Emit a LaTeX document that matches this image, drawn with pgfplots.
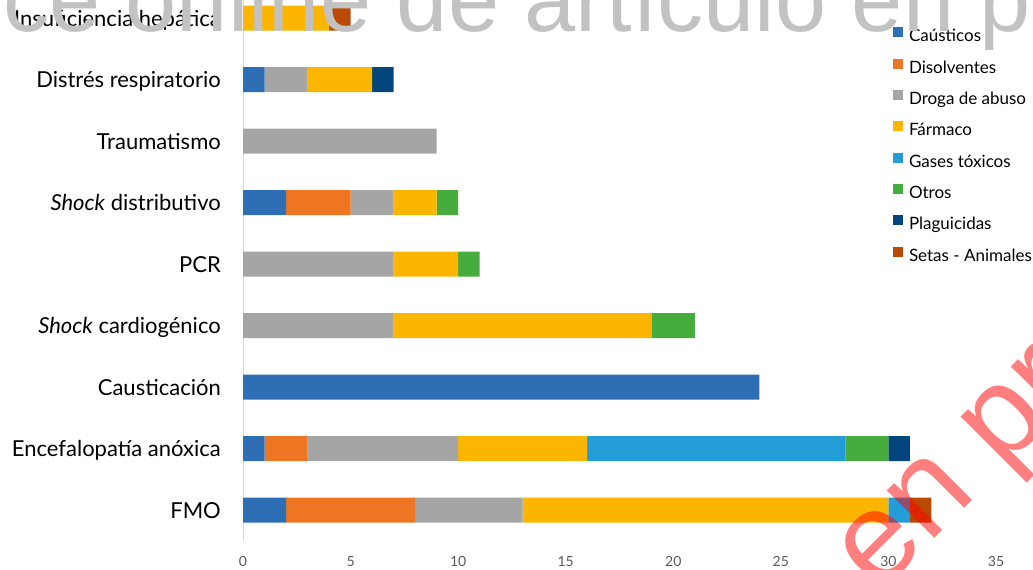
\documentclass[border=0pt]{standalone}
\usepackage{fontspec}
\setmainfont{Lato}
\newfontfamily\wmfont{Liberation Sans}
\usepackage{pgfplots}
\pgfplotsset{compat=1.18}
\definecolor{cCaus}{HTML}{2E6EB5}
\definecolor{cDis}{HTML}{EE7521}
\definecolor{cDro}{HTML}{A5A5A5}
\definecolor{cFar}{HTML}{FDB600}
\definecolor{cGas}{HTML}{239CD8}
\definecolor{cOtr}{HTML}{47AC3E}
\definecolor{cPla}{HTML}{03467E}
\definecolor{cSet}{HTML}{BA4A03}
\definecolor{lgrey}{HTML}{D9D9D9}
\definecolor{tickgrey}{HTML}{595959}
\definecolor{wmgrey}{HTML}{C2C2C2}
\pgfplotsset{myleg/.style={legend image code/.code={\fill[##1] (0pt,0.5pt) rectangle (10pt,10.5pt);}}}
\begin{document}
\begin{tikzpicture}[x=1pt,y=1pt]
\useasboundingbox (0,0) rectangle (1033,570);
\clip (0,0) rectangle (1033,570);
\begin{axis}[
  at={(243pt,29.25pt)}, anchor=south west,
  scale only axis, width=753pt, height=553.5pt,
  xmin=0, xmax=35, ymin=-0.5, ymax=8.5,
  xbar stacked, bar width=25pt,
  axis x line*=bottom, axis y line*=left,
  x axis line style={draw=none},
  y axis line style={draw=lgrey, line width=1pt},
  major tick length=0pt,
  xtick={0,5,...,35}, ytick={0,...,8},
  yticklabels={FMO, Encefalopatía anóxica, Causticación, \textit{Shock} cardiogénico, PCR, \textit{Shock} distributivo, Traumatismo, Distrés respiratorio, Insuficiencia hepática},
  /pgf/number format/assume math mode=true,
  xticklabel style={font=\fontsize{14}{16}\selectfont, text=tickgrey, anchor=base, yshift=-25.5pt, inner sep=0pt},
  yticklabel style={font=\fontsize{22}{26}\selectfont, text=black, inner sep=0pt, anchor=base east, xshift=-22pt, yshift=-8pt},
  legend cell align=left,
  legend style={at={(0.8632,0.9273)}, anchor=north west, draw=none, fill=none, inner sep=0pt, outer sep=0pt,
    font=\fontsize{17}{20}\selectfont, row sep=12.8pt,
    nodes={inner sep=0pt, text height=12pt, text depth=4pt},
    /tikz/every odd column/.append style={column sep=6pt}},
]
\addplot[fill=cCaus, draw=none, myleg] coordinates {(2,0) (1,1) (24,2) (0,3) (0,4) (2,5) (0,6) (1,7) (0,8)};
\addplot[fill=cDis, draw=none, myleg] coordinates {(6,0) (2,1) (0,2) (0,3) (0,4) (3,5) (0,6) (0,7) (0,8)};
\addplot[fill=cDro, draw=none, myleg] coordinates {(5,0) (7,1) (0,2) (7,3) (7,4) (2,5) (9,6) (2,7) (0,8)};
\addplot[fill=cFar, draw=none, myleg] coordinates {(17,0) (6,1) (0,2) (12,3) (3,4) (2,5) (0,6) (3,7) (4,8)};
\addplot[fill=cGas, draw=none, myleg] coordinates {(1,0) (12,1) (0,2) (0,3) (0,4) (0,5) (0,6) (0,7) (0,8)};
\addplot[fill=cOtr, draw=none, myleg] coordinates {(0,0) (2,1) (0,2) (2,3) (1,4) (1,5) (0,6) (0,7) (0,8)};
\addplot[fill=cPla, draw=none, myleg] coordinates {(0,0) (1,1) (0,2) (0,3) (0,4) (0,5) (0,6) (1,7) (0,8)};
\addplot[fill=cSet, draw=none, myleg] coordinates {(1,0) (0,1) (0,2) (0,3) (0,4) (0,5) (0,6) (0,7) (1,8)};
\legend{Caústicos, Disolventes, Droga de abuso, Fármaco, Gases tóxicos, Otros, Plaguicidas, Setas - Animales}
\end{axis}
\node[anchor=base west, inner sep=0pt, text=wmgrey, font=\wmfont\fontsize{92}{92}\selectfont] at (3,538) {ce online de artículo en prensa};
\node[anchor=base west, inner sep=0pt, text=red, text opacity=0.5, rotate=45, font=\wmfont\fontsize{127}{127}\selectfont] at (878,-25) {en prensa};
\end{tikzpicture}
\end{document}
